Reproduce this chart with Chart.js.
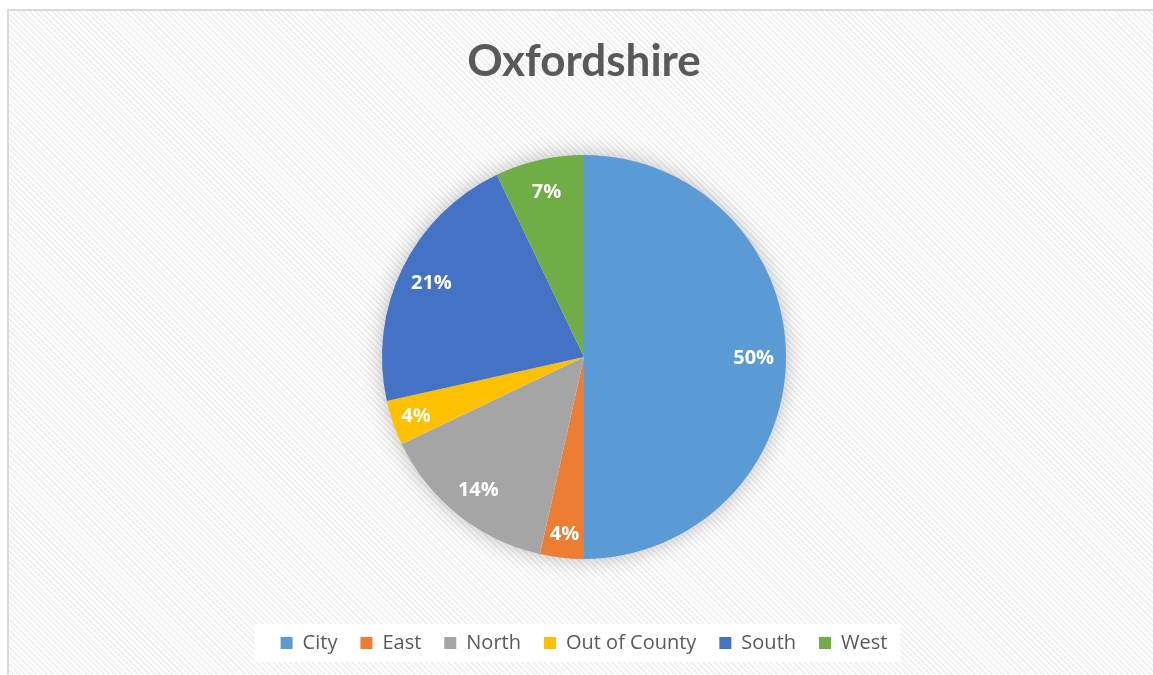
<!DOCTYPE html>
<html>
<head>
<meta charset="utf-8">
<title>Oxfordshire</title>
<script src="https://cdn.jsdelivr.net/npm/chart.js@4/dist/chart.umd.min.js"></script>
<style>
    html, body { margin: 0; padding: 0; background: #fff; overflow: hidden; }
    #frame {
        position: absolute; left: 7px; top: 9px; width: 1160px; height: 680px;
        border-top: 2px solid #d9d9d9; border-left: 2px solid #d9d9d9;
        background: repeating-linear-gradient(45deg, #ffffff 0px, #ffffff 2px, #f1f1f1 2px, #f1f1f1 4px);
    }
    #wrap { position: absolute; left: 0; top: 0; width: 1153px; height: 675px; }
</style>
</head>
<body>
<div id="frame"></div>
<div id="wrap"><canvas id="pieChart"></canvas></div>
<script>
// Data
const areas = ['City', 'East', 'North', 'Out of County', 'South', 'West'];
const shares = [50.0, 3.5, 14.4, 3.6, 21.4, 7.1];
const sliceColors = ['#5B9BD5', '#ED7D31', '#A5A5A5', '#FFC000', '#4472C4', '#70AD47'];

// soft shadow behind the pie
const pieShadow = {
    id: 'pieShadow',
    beforeDatasetsDraw(chart) {
        const arc = chart.getDatasetMeta(0).data[0];
        if (!arc) return;
        const { x, y, outerRadius } = arc.getProps(['x', 'y', 'outerRadius'], true);
        const ctx = chart.ctx;
        ctx.save();
        ctx.shadowColor = 'rgba(0,0,0,0.28)';
        ctx.shadowBlur = 22;
        ctx.fillStyle = '#ffffff';
        ctx.beginPath();
        ctx.arc(x, y, outerRadius - 1, 0, Math.PI * 2);
        ctx.fill();
        ctx.restore();
    }
};

// percent labels inside slices
const sliceLabels = {
    id: 'sliceLabels',
    afterDatasetsDraw(chart) {
        const ctx = chart.ctx;
        const data = chart.data.datasets[0].data;
        const total = data.reduce((a, b) => a + b, 0);
        ctx.save();
        ctx.fillStyle = '#ffffff';
        ctx.font = 'bold 20px "Open Sans"';
        ctx.textAlign = 'center';
        ctx.textBaseline = 'middle';
        chart.getDatasetMeta(0).data.forEach((arc, i) => {
            const p = arc.getProps(['x', 'y', 'startAngle', 'endAngle', 'outerRadius'], true);
            const mid = (p.startAngle + p.endAngle) / 2;
            // small slices sit a little further out, like the original
            const r = p.outerRadius * (data[i] / total < 0.05 ? 0.88 : 0.84);
            const txt = Math.round(data[i] / total * 100) + '%';
            ctx.fillText(txt, p.x + Math.cos(mid) * r, p.y + Math.sin(mid) * r + 1);
        });
        ctx.restore();
    }
};

// white panel behind the legend
const legendPanel = {
    id: 'legendPanel',
    beforeDraw(chart) {
        const lg = chart.legend;
        if (!lg || !lg.legendHitBoxes.length) return;
        const boxes = lg.legendHitBoxes;
        const last = boxes[boxes.length - 1];
        const left = boxes[0].left - 26;
        const right = last.left + last.width + 13;
        const cy = boxes[0].top + boxes[0].height / 2;
        chart.ctx.save();
        chart.ctx.fillStyle = '#ffffff';
        chart.ctx.fillRect(left, cy - 19, right - left, 38);
        chart.ctx.restore();
    }
};

const ctx = document.getElementById('pieChart').getContext('2d');
new Chart(ctx, {
    type: 'pie',
    data: {
        labels: areas,
        datasets: [{
            data: shares,
            backgroundColor: sliceColors,
            borderWidth: 0
        }]
    },
    options: {
        responsive: true,
        maintainAspectRatio: false,
        animation: false,
        radius: 202,
        layout: { padding: { left: 15, right: 0, top: 0, bottom: 12 } },
        plugins: {
            title: {
                display: true,
                text: 'Oxfordshire',
                color: '#595959',
                font: { family: 'Lato', size: 44, weight: 'bold', lineHeight: 1.2 },
                padding: { top: 35, bottom: 16 }
            },
            legend: {
                position: 'bottom',
                labels: {
                    color: '#595959',
                    font: { family: 'Open Sans', size: 20 },
                    boxWidth: 12,
                    boxHeight: 12,
                    padding: 23
                }
            },
            tooltip: { enabled: false }
        }
    },
    plugins: [legendPanel, pieShadow, sliceLabels]
});
</script>
</body>
</html>
